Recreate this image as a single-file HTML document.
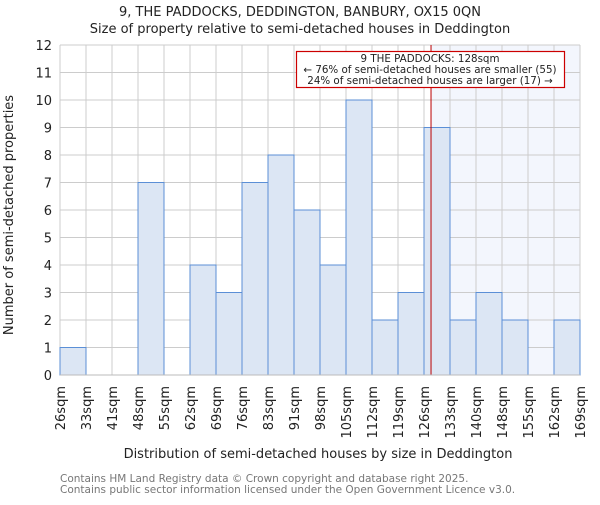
<!DOCTYPE html>
<html><head><meta charset="utf-8"><style>body{margin:0;background:#fff}svg{font-family:"DejaVu Sans","Liberation Sans",sans-serif}</style></head>
<body>
<svg width="600" height="500">
<g id="plot"></g>
</svg>
<script>
const categories=["26sqm","33sqm","41sqm","48sqm","55sqm","62sqm","69sqm","76sqm","83sqm","91sqm","98sqm","105sqm","112sqm","119sqm","126sqm","133sqm","140sqm","148sqm","155sqm","162sqm","169sqm"];
const counts=[1,0,0,7,0,4,3,7,8,6,4,10,2,3,9,2,3,2,0,2];
const yTicks=[0,1,2,3,4,5,6,7,8,9,10,11,12];
const markerBin=14.27;
const L=60,R=580,T=45,B=375,yMax=12;
const bw=(R-L)/counts.length;
const x=i=>L+i*bw, y=v=>B-(B-T)*v/yMax;
const svg=document.querySelector('svg');const NS='http://www.w3.org/2000/svg';
function mk(t,a,p){const e=document.createElementNS(NS,t);for(const k in a)e.setAttribute(k,a[k]);(p||svg).appendChild(e);return e;}
const mx=x(markerBin);
const hl=mk('rect',{x:mx,y:T,width:R-mx,height:B-T,fill:'#f3f6fd'});


yTicks.forEach(v=>{const g=mk('line',{x1:L,x2:R,y1:y(v),y2:y(v),stroke:'#ccc'});


const t=mk('text',{x:L-8,y:y(v)+5,'text-anchor':'end','font-size':'13',fill:'#222'});t.textContent=v;

});
categories.forEach((c,i)=>{const g=mk('line',{x1:x(i),x2:x(i),y1:T,y2:B,stroke:'#ccc'});


const t=mk('text',{transform:`translate(${x(i)+5},386) rotate(-90)`,'text-anchor':'end','font-size':'13',fill:'#222'});t.textContent=c;

});
counts.forEach((v,i)=>{if(!v)return;const r=mk('rect',{x:x(i),y:y(v),width:bw,height:B-y(v),fill:'#dce6f4',stroke:'#5b8fd6','stroke-width':1});

});
const ml=mk('line',{x1:mx,x2:mx,y1:T,y2:B,stroke:'#b00','stroke-width':1});


mk('line',{x1:L,x2:R,y1:B,y2:B,stroke:'#bbb'});
</script>
<svg style="position:absolute;left:0;top:0" width="600" height="500">
<g>
<rect x="296.5" y="51.5" width="268" height="36" fill="#fff" stroke="#c00" stroke-width="1.2"/>
<text x="430" y="62" text-anchor="middle" font-size="10.3" fill="#222">9 THE PADDOCKS: 128sqm</text>
<text x="430" y="73" text-anchor="middle" font-size="10.3" fill="#222">← 76% of semi-detached houses are smaller (55)</text>
<text x="430" y="84" text-anchor="middle" font-size="10.3" fill="#222">24% of semi-detached houses are larger (17) →</text>
</g>
<text x="300" y="16" text-anchor="middle" font-size="13" fill="#222">9, THE PADDOCKS, DEDDINGTON, BANBURY, OX15 0QN</text>
<text x="300" y="33" text-anchor="middle" font-size="13" fill="#222">Size of property relative to semi-detached houses in Deddington</text>
<text x="318" y="458" text-anchor="middle" font-size="13" fill="#222">Distribution of semi-detached houses by size in Deddington</text>
<text transform="translate(13,215) rotate(-90)" text-anchor="middle" font-size="13" fill="#222">Number of semi-detached properties</text>
<text x="60" y="482" font-size="10.5" fill="#777">Contains HM Land Registry data © Crown copyright and database right 2025.</text>
<text x="60" y="493" font-size="10.5" fill="#777">Contains public sector information licensed under the Open Government Licence v3.0.</text>
</svg>
</body></html>
